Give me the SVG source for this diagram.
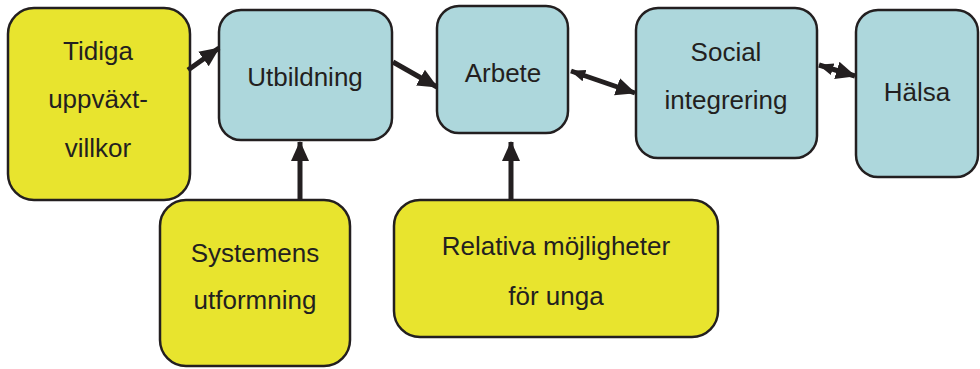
<svg xmlns="http://www.w3.org/2000/svg" width="980" height="369" viewBox="0 0 980 369">
<style>
.y{fill:#E8E42E;stroke:#231F20;stroke-width:2.5}
.b{fill:#ADD7DC;stroke:#231F20;stroke-width:2.5}
text{font-family:"Liberation Sans",Arial,sans-serif;font-size:26px;fill:#231F20;text-anchor:middle}
.c path{stroke:#231F20;stroke-width:5;fill:none}
</style>
<defs>
<marker id="ah" markerUnits="userSpaceOnUse" markerWidth="20" markerHeight="20" viewBox="0 0 20 20" refX="19" refY="10" orient="auto">
<path d="M0,1 L20,10 L0,19 Z" fill="#231F20"/>
</marker>
<marker id="as" markerUnits="userSpaceOnUse" markerWidth="15" markerHeight="15" viewBox="0 0 20 20" refX="19" refY="10" orient="auto-start-reverse">
<path d="M0,2 L20,10 L0,18 Z" fill="#231F20"/>
</marker>
</defs>
<g id="tidiga"><rect class="y" x="8" y="8" width="182" height="192" rx="26"/>
<text x="98" y="60">Tidiga</text><text x="98" y="108">uppväxt-</text><text x="98" y="157">villkor</text></g>
<g id="utbildning"><rect class="b" x="219" y="10" width="173" height="130" rx="22"/>
<text x="305" y="86">Utbildning</text></g>
<g id="arbete"><rect class="b" x="437" y="6" width="131" height="127" rx="22"/>
<text x="503" y="82">Arbete</text></g>
<g id="social"><rect class="b" x="636" y="8" width="181" height="150" rx="22"/>
<text x="726" y="61">Social</text><text x="726" y="109">integrering</text></g>
<g id="halsa"><rect class="b" x="856" y="10" width="122" height="167" rx="22"/>
<text x="917" y="101">Hälsa</text></g>
<g id="systemens"><rect class="y" x="160" y="200" width="190" height="166" rx="26"/>
<text x="255" y="262">Systemens</text><text x="255" y="309">utformning</text></g>
<g id="relativa"><rect class="y" x="394" y="200" width="324" height="137" rx="26"/>
<text x="556" y="255">Relativa möjligheter</text><text x="556" y="305">för unga</text></g>
<g class="c">
<path d="M188,70 L219,48" marker-end="url(#ah)"/>
<path d="M393,62 L437,87" marker-end="url(#ah)"/>
<path d="M571,71 L635,93" marker-start="url(#as)" marker-end="url(#ah)"/>
<path d="M819,65 L855,76" marker-start="url(#as)" marker-end="url(#ah)"/>
<path d="M300,200 L300,142" marker-end="url(#ah)"/>
<path d="M511,200 L511,142" marker-end="url(#ah)"/>
</g>
</svg>
